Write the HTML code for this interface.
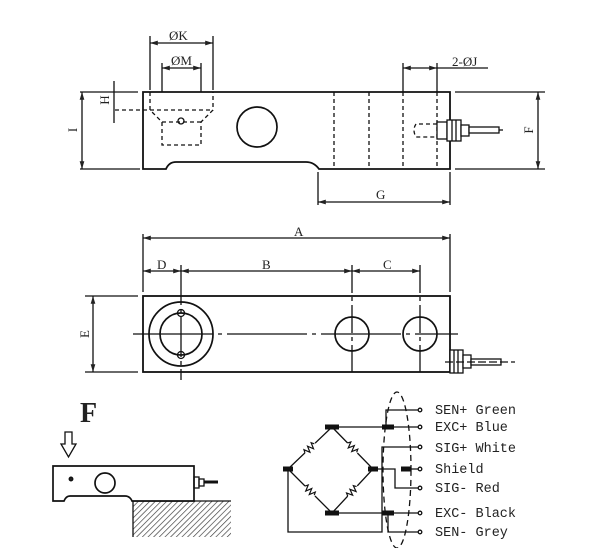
<!DOCTYPE html>
<html><head><style>
html,body{margin:0;padding:0;background:#fff;}
svg{display:block;}
text{font-family:"Liberation Serif",serif;fill:#222;}
text.m{font-family:"Liberation Mono",monospace;}
</style></head><body>
<svg width="600" height="548" viewBox="0 0 600 548" xmlns="http://www.w3.org/2000/svg">
<defs>
<marker id="ar" viewBox="0 0 10 10" refX="10" refY="5" markerWidth="6" markerHeight="6" orient="auto-start-reverse"><path d="M0,2 L10,5 L0,8 z" fill="#222"/></marker>
<pattern id="hatch" width="4" height="4" patternUnits="userSpaceOnUse" patternTransform="rotate(45)"><line x1="0" y1="0" x2="0" y2="4" stroke="#333" stroke-width="1.3"/></pattern>
</defs>
<g stroke="#111" fill="none" stroke-width="1.3">
<path d="M143,92 H450 V169 H319 Q314,162 306,162 H176 Q169,162 166,169 H143 Z" stroke-width="1.8"/>
<g stroke-dasharray="4,3">
<line x1="334" y1="92" x2="334" y2="169"/><line x1="369" y1="92" x2="369" y2="169"/>
<line x1="403" y1="92" x2="403" y2="169"/><line x1="437" y1="92" x2="437" y2="169"/>
<path d="M150,92 V110 L162,122 V145 H201 V122 L213,110 V92"/>
<line x1="115" y1="110" x2="213" y2="110"/><line x1="162" y1="122" x2="201" y2="122"/>
<path d="M437,124 H416 Q412,130 416,137 H437"/>
</g>
<circle cx="181" cy="121" r="3"/>
<circle cx="257" cy="127" r="20" stroke-width="1.7"/>
<line x1="150" y1="36" x2="150" y2="90"/><line x1="213" y1="36" x2="213" y2="90"/>
<line x1="150" y1="43" x2="213" y2="43" marker-start="url(#ar)" marker-end="url(#ar)"/>
<line x1="162" y1="63" x2="162" y2="92"/><line x1="201" y1="63" x2="201" y2="92"/>
<line x1="162" y1="68" x2="201" y2="68" marker-start="url(#ar)" marker-end="url(#ar)"/>
<line x1="114" y1="81" x2="114" y2="123"/>
<line x1="80" y1="92" x2="138" y2="92"/><line x1="80" y1="169" x2="140" y2="169"/>
<line x1="82" y1="92" x2="82" y2="169" marker-start="url(#ar)" marker-end="url(#ar)"/>
<line x1="455" y1="92" x2="545" y2="92"/><line x1="455" y1="169" x2="545" y2="169"/>
<line x1="538" y1="92" x2="538" y2="169" marker-start="url(#ar)" marker-end="url(#ar)"/>
<line x1="318" y1="172" x2="318" y2="205"/><line x1="450" y1="172" x2="450" y2="205"/>
<line x1="318" y1="202" x2="450" y2="202" marker-start="url(#ar)" marker-end="url(#ar)"/>
<line x1="403" y1="63" x2="403" y2="92"/><line x1="437" y1="63" x2="437" y2="92"/>
<line x1="403" y1="68" x2="437" y2="68" marker-start="url(#ar)" marker-end="url(#ar)"/>
<line x1="437" y1="68" x2="488" y2="68"/>
<rect x="437" y="122" width="10" height="17" fill="#fff"/><rect x="447" y="120" width="14" height="21" fill="#fff"/>
<line x1="452" y1="120" x2="452" y2="141"/><line x1="456" y1="120" x2="456" y2="141"/>
<rect x="461" y="125" width="8" height="11" fill="#fff"/>
<rect x="469" y="127" width="30" height="6" fill="#fff"/>
<line x1="499" y1="130" x2="503" y2="130"/>

<rect x="143" y="296" width="307" height="76" stroke-width="1.8"/>
<line x1="143" y1="234" x2="143" y2="292"/><line x1="450" y1="234" x2="450" y2="292"/>
<line x1="143" y1="238" x2="450" y2="238" marker-start="url(#ar)" marker-end="url(#ar)"/>
<line x1="143" y1="271" x2="181" y2="271" marker-start="url(#ar)" marker-end="url(#ar)"/>
<line x1="181" y1="271" x2="352" y2="271" marker-start="url(#ar)" marker-end="url(#ar)"/>
<line x1="352" y1="271" x2="420" y2="271" marker-start="url(#ar)" marker-end="url(#ar)"/>
<line x1="181" y1="265" x2="181" y2="380" stroke-dasharray="40,4,4,4"/>
<line x1="352" y1="265" x2="352" y2="372" stroke-dasharray="28,4,4,4"/>
<line x1="420" y1="265" x2="420" y2="372" stroke-dasharray="28,4,4,4"/>
<line x1="133" y1="334" x2="458" y2="334" stroke-dasharray="80,5,4,5"/>
<circle cx="181" cy="334" r="32" stroke-width="1.7"/>
<circle cx="181" cy="334" r="21" stroke-width="1.7"/>
<circle cx="181" cy="313" r="3.5"/><circle cx="181" cy="355" r="3.5"/>
<circle cx="352" cy="334" r="17" stroke-width="1.7"/>
<circle cx="420" cy="334" r="17" stroke-width="1.7"/>
<line x1="85" y1="296" x2="138" y2="296"/><line x1="85" y1="372" x2="138" y2="372"/>
<line x1="93" y1="296" x2="93" y2="372" marker-start="url(#ar)" marker-end="url(#ar)"/>
<rect x="450" y="350" width="13" height="23" fill="#fff"/>
<line x1="454" y1="350" x2="454" y2="373"/><line x1="458" y1="350" x2="458" y2="373"/>
<rect x="463" y="355" width="8" height="13" fill="#fff"/>
<rect x="471" y="359" width="30" height="6" fill="#fff"/>
<line x1="445" y1="362" x2="515" y2="362" stroke-dasharray="8,3"/>

<path d="M65,432 H72 V444 H76 L68.5,457 L61,444 H65 Z"/>
<rect x="133" y="501" width="98" height="36" fill="url(#hatch)" stroke="none"/>
<line x1="132" y1="501" x2="231" y2="501"/><line x1="133" y1="501" x2="133" y2="537"/>
<path d="M53,466 H194 V501 H132 Q130,496 125,496 H70 Q66,496 64,501 H53 Z" fill="#fff" stroke-width="1.7"/>
<circle cx="71" cy="479" r="1.8" fill="#222"/>
<circle cx="105" cy="483" r="10" stroke-width="1.7"/>
<rect x="194" y="477" width="5" height="11"/><rect x="199" y="479" width="5" height="7"/>
<line x1="204" y1="482" x2="218" y2="482" stroke-width="3"/>

<path d="M332,427 L373,469 L332,513 L288,469 Z"/>
<line x1="332" y1="427" x2="420" y2="427"/>
<line x1="332" y1="513" x2="420" y2="513"/>
<path d="M373,469 H395 V488 H420"/>
<path d="M288,469 V532 H382 V447 H420"/>
<path d="M420,410 H386 V427"/>
<path d="M388,513 V532 H420"/>
<line x1="403" y1="469" x2="420" y2="469"/>
<ellipse cx="397" cy="470" rx="14" ry="78" stroke-dasharray="6,4"/>
<g fill="#fff">
<circle cx="420" cy="410" r="1.8"/><circle cx="420" cy="427" r="1.8"/><circle cx="420" cy="447" r="1.8"/>
<circle cx="420" cy="469" r="1.8"/><circle cx="420" cy="488" r="1.8"/><circle cx="420" cy="513" r="1.8"/><circle cx="420" cy="532" r="1.8"/>
</g>
</g>
<g fill="none" stroke="#111" stroke-width="1.2">
<g transform="translate(310,448) rotate(-44)"><rect x="-7" y="-4" width="14" height="8" fill="#fff" stroke="none"/><path d="M-7,0 l1.5,-3 l2.5,6 l2.5,-6 l2.5,6 l2.5,-6 l1.5,3"/></g>
<g transform="translate(352.5,448) rotate(46)"><rect x="-7" y="-4" width="14" height="8" fill="#fff" stroke="none"/><path d="M-7,0 l1.5,-3 l2.5,6 l2.5,-6 l2.5,6 l2.5,-6 l1.5,3"/></g>
<g transform="translate(310,491) rotate(45)"><rect x="-7" y="-4" width="14" height="8" fill="#fff" stroke="none"/><path d="M-7,0 l1.5,-3 l2.5,6 l2.5,-6 l2.5,6 l2.5,-6 l1.5,3"/></g>
<g transform="translate(352.5,491) rotate(-47)"><rect x="-7" y="-4" width="14" height="8" fill="#fff" stroke="none"/><path d="M-7,0 l1.5,-3 l2.5,6 l2.5,-6 l2.5,6 l2.5,-6 l1.5,3"/></g>
</g>
<g fill="#111">
<rect x="325" y="424.5" width="14" height="5"/><rect x="325" y="510.5" width="14" height="5"/>
<rect x="283" y="466.5" width="10" height="5"/><rect x="368" y="466.5" width="10" height="5"/>
<rect x="382" y="424.5" width="12" height="5"/><rect x="382" y="510.5" width="12" height="5"/>
<rect x="401" y="466.5" width="10" height="5"/>
</g>

<g font-size="13">
<text x="169" y="40">ØK</text>
<text x="171" y="65">ØM</text>
<text x="452" y="66">2-ØJ</text>
<text x="376" y="199">G</text>
<text x="294" y="236">A</text>
<text x="157" y="269">D</text>
<text x="262" y="269">B</text>
<text x="383" y="269">C</text>
<text transform="translate(109,100) rotate(-90)" text-anchor="middle">H</text>
<text transform="translate(77,130) rotate(-90)" text-anchor="middle">I</text>
<text transform="translate(533,130) rotate(-90)" text-anchor="middle">F</text>
<text transform="translate(89,334) rotate(-90)" text-anchor="middle">E</text>
</g>
<text x="80" y="422" font-size="28" font-weight="bold">F</text>
<g font-size="13.5">
<text class="m" x="435" y="414">SEN+ Green</text>
<text class="m" x="435" y="431">EXC+ Blue</text>
<text class="m" x="435" y="452">SIG+ White</text>
<text class="m" x="435" y="473">Shield</text>
<text class="m" x="435" y="492">SIG- Red</text>
<text class="m" x="435" y="517">EXC- Black</text>
<text class="m" x="435" y="536">SEN- Grey</text>
</g>
</svg>
</body></html>
